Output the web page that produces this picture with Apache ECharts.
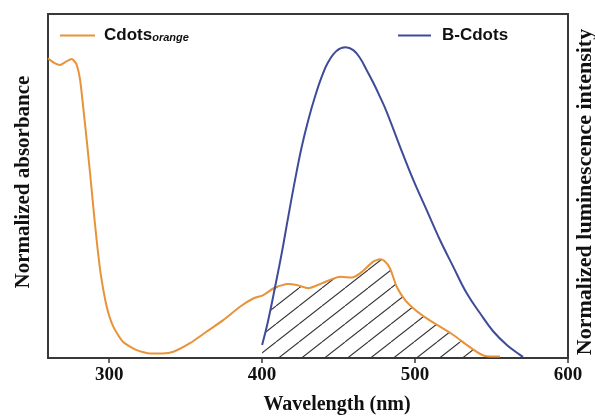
<!DOCTYPE html>
<html>
<head>
<meta charset="utf-8">
<script src="https://cdn.jsdelivr.net/npm/echarts@6/dist/echarts.min.js"></script>
<style>
html,body{margin:0;padding:0;background:#fff;}
#c{width:595px;height:417px;}
</style>
</head>
<body>
<div id="c"></div>
<script>
// ---- data ----
var xTicks = [300, 400, 500, 600];
var orangeName = 'Cdots orange';
var blueName = 'B-Cdots';
// absorbance of Cdots(orange): [wavelength nm, normalized value]
var orangeData = [
  [260,0.871],[264,0.858],[268,0.852],[272,0.862],[275.5,0.869],[278.5,0.855],
  [281,0.808],[283,0.73],[285.3,0.634],[287.5,0.537],[289.6,0.44],[291.8,0.343],
  [294.4,0.246],[298.4,0.149],[302.7,0.091],[309,0.047],[318,0.023],[327,0.013],
  [335,0.013],[342,0.018],[352.8,0.043],[363.8,0.077],[374.6,0.11],[385.5,0.149],
  [394.2,0.173],[400.8,0.183],[408.4,0.205],[417,0.215],[422.6,0.212],[430.2,0.203],
  [439,0.217],[451,0.236],[458.6,0.234],[464,0.246],[472.7,0.28],[477,0.287],
  [480,0.282],[483.6,0.261],[488,0.207],[493.4,0.169],[500,0.14],[507.6,0.115],
  [516.3,0.091],[525,0.067],[533.8,0.038],[540.3,0.018],[545.7,0.006],[555.5,0.004]
];
// luminescence of B-Cdots
var blueData = [
  [400,0.038],[404,0.11],[408.4,0.205],[412.8,0.304],[417.1,0.411],[421.5,0.517],
  [425.9,0.614],[430.2,0.692],[434.6,0.76],[439,0.818],[443.3,0.861],[448.8,0.893],
  [454.5,0.903],[459.6,0.895],[464,0.872],[468,0.84],[472.7,0.80],[477,0.76],
  [481.5,0.715],[490.2,0.614],
  [498.9,0.517],[507.6,0.43],[516.3,0.343],[525,0.265],[533.8,0.188],[542.5,0.13],
  [551.2,0.077],[560,0.038],[568.6,0.009],[570.6,0.003]
];
// crossing wavelength where the emission rises above the absorbance
var crossNm = 408.4;

// overlap (hatched) region: emission below crossing, absorbance above it
var hatchData = blueData.filter(function(p){return p[0] < crossNm;})
  .concat(orangeData.filter(function(p){return p[0] >= crossNm;}));

// hatch pattern
function makeHatch(){
  var W = 23, H = 18;
  var cv = document.createElement('canvas');
  cv.width = W; cv.height = H;
  var ctx = cv.getContext('2d');
  ctx.strokeStyle = '#333333';
  ctx.lineWidth = 1.1;
  for (var k = -1; k <= 1; k++) {
    ctx.beginPath();
    ctx.moveTo(k * W, H);
    ctx.lineTo((k + 1) * W, 0);
    ctx.stroke();
  }
  return cv;
}

var ORANGE = '#E8923A';
var BLUE = '#3E4C98';
var chart = echarts.init(document.getElementById('c'), null, {renderer:'canvas'});
var option = {
  animation: false,
  backgroundColor: '#fff',
  grid: {left: 48, right: 27, top: 14, bottom: 59, show: true, borderColor: '#383838', borderWidth: 2},
  legend: [
    {
      data: [orangeName], left: 55, top: 22, itemWidth: 35, itemHeight: 2, icon: 'rect',
      formatter: function(){ return '{a|Cdots}{b|orange}'; },
      textStyle: {
        rich: {
          a: {fontFamily: 'Liberation Sans', fontWeight: 'bold', fontSize: 17, color: '#111', padding: [0,0,0,4]},
          b: {fontFamily: 'Liberation Sans', fontStyle: 'italic', fontWeight: 'bold', fontSize: 11, color: '#111', padding: [4,0,0,0]}
        }
      }
    },
    {
      data: [blueName], left: 393, top: 22, itemWidth: 33, itemHeight: 2, icon: 'rect',
      textStyle: {fontFamily: 'Liberation Sans', fontWeight: 'bold', fontSize: 17, color: '#111', padding: [0,0,0,6]}
    }
  ],
  xAxis: {
    type: 'value', min: 260, max: 600,
    axisLine: {show: false},
    splitLine: {show: false},
    axisTick: {show: true, inside: false, length: 5, customValues: xTicks, lineStyle: {color: '#383838', width: 1.5}},
    axisLabel: {customValues: xTicks, margin: 8, fontFamily: 'Liberation Serif', fontWeight: 'bold', fontSize: 19, color: '#111'}
  },
  yAxis: [
    {type: 'value', min: 0, max: 1, axisLine: {show: false}, axisTick: {show: false}, axisLabel: {show: false}, splitLine: {show: false}},
    {type: 'value', min: 0, max: 1, position: 'right', axisLine: {show: false}, axisTick: {show: false}, axisLabel: {show: false}, splitLine: {show: false}}
  ],
  series: [
    {
      name: 'overlap', type: 'line', data: hatchData, yAxisIndex: 0,
      symbol: 'none', smooth: 0.2, lineStyle: {width: 0, opacity: 0},
      areaStyle: {color: {image: makeHatch(), repeat: 'repeat'}, opacity: 1},
      z: 1, silent: true
    },
    {
      name: orangeName, type: 'line', data: orangeData, yAxisIndex: 0,
      symbol: 'none', smooth: 0.2, color: ORANGE,
      lineStyle: {color: ORANGE, width: 2}, z: 3
    },
    {
      name: blueName, type: 'line', data: blueData, yAxisIndex: 1,
      symbol: 'none', smooth: 0.4, color: BLUE,
      lineStyle: {color: BLUE, width: 2}, z: 3
    }
  ],
  graphic: [
    {type: 'text', x: 337, y: 405, style: {text: 'Wavelength (nm)', fontFamily: 'Liberation Serif', fontWeight: 'bold', fontSize: 20, fill: '#111', align: 'center', verticalAlign: 'middle'}},
    {type: 'text', x: 24, y: 182, rotation: Math.PI / 2, style: {text: 'Normalized absorbance', fontFamily: 'Liberation Serif', fontWeight: 'bold', fontSize: 21, fill: '#111', align: 'center', verticalAlign: 'middle'}},
    {type: 'text', x: 585, y: 192, rotation: Math.PI / 2, style: {text: 'Normalized luminescence intensity', fontFamily: 'Liberation Serif', fontWeight: 'bold', fontSize: 22, fill: '#111', align: 'center', verticalAlign: 'middle'}}
  ]
};
chart.setOption(option);
</script>
</body>
</html>
